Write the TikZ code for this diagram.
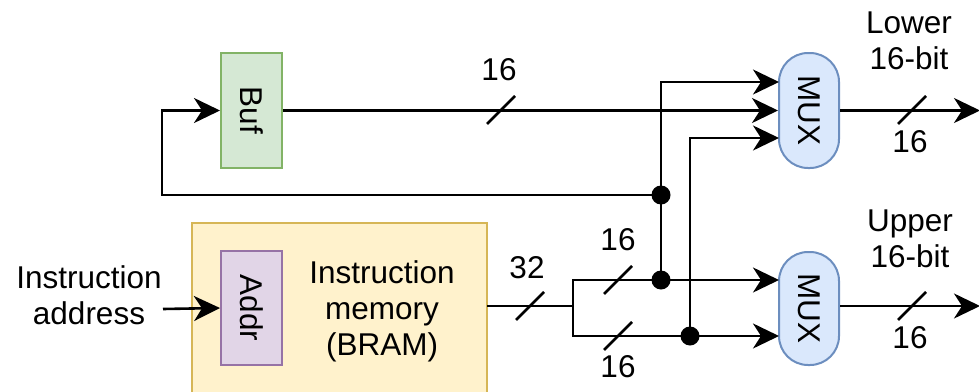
\documentclass[tikz,border=0pt]{standalone}
\usepackage{fontspec}
\setmainfont{Liberation Sans}
\usetikzlibrary{arrows.meta}
\definecolor{bufFill}{HTML}{D5E8D4}
\definecolor{bufLine}{HTML}{82B366}
\definecolor{memFill}{HTML}{FFF2CC}
\definecolor{memLine}{HTML}{D6B656}
\definecolor{addrFill}{HTML}{E1D5E7}
\definecolor{addrLine}{HTML}{9673A6}
\definecolor{muxFill}{HTML}{DAE8FC}
\definecolor{muxLine}{HTML}{6C8EBF}
\begin{document}
\begin{tikzpicture}[x=1pt, y=-1pt, line width=2.6pt,
    every node/.style={font=\fontsize{31.5}{36}\selectfont, align=center, inner sep=0pt},
    block/.style={draw, line width=2pt, minimum width=61pt, minimum height=115pt},
    mux/.style={draw=muxLine, fill=muxFill, line width=2pt, rounded corners=29pt, minimum width=60pt, minimum height=115pt},
    arr/.style={-{Stealth[length=26pt, width=25pt, inset=8pt]}},
    dot/.style={circle, fill=black, minimum size=19pt}]
    \useasboundingbox (0,0) rectangle (979,391);

    % blocks
    \node[block, draw=memLine, fill=memFill, minimum width=295pt, minimum height=172pt] (mem) at (339.5,309) {};
    \node (memtxt) at (382,311) {Instruction\\memory\\(BRAM)};
    \node[block, draw=addrLine, fill=addrFill, minimum height=114pt] (addr) at (251.5,308) {\rotatebox{-90}{Addr}};
    \node[block, draw=bufLine, fill=bufFill] (buf) at (251.5,110.5) {\rotatebox{-90}{Buf}};
    \node[mux] (muxL) at (809,110.5) {\rotatebox{-90}{MUX}};
    \node[mux, minimum height=113pt] (muxU) at (809,308.5) {\rotatebox{-90}{MUX}};

    % texts
    \node (inp) at (89,295) {Instruction\\address};
    \node (lowtxt) at (909,41) {Lower\\16-bit};
    \node (uptxt) at (910,239) {Upper\\16-bit};
    \node (w16a) at (499,70) {16};
    \node (w32) at (527,268) {32};
    \node (w16b) at (618,240) {16};
    \node (w16c) at (618,367) {16};
    \node (w16d) at (910,142) {16};
    \node (w16e) at (910,338) {16};

    % wire points
    \coordinate (loop) at (162,195);
    \coordinate (src) at (163,309);
    \coordinate (memout) at (487,306);
    \coordinate (split) at (573,306);
    \coordinate (l1) at (779,82);
    \coordinate (l3) at (779,138);
    \coordinate (u1) at (779,280);
    \coordinate (u2) at (779,336);
    \coordinate (outL) at (980,110.5);
    \coordinate (outU) at (980,306);
    \node[dot] (d1) at (661,195) {};
    \node[dot] (d2) at (661,280) {};
    \node[dot] (d3) at (690,336) {};

    % wires
    \draw[arr] (src) -- (addr.west);
    \draw[arr] (d1.center) -- (loop) |- (buf.west);
    \draw[arr] (buf.east) -- (muxL.west);
    \draw (memout) -- (split);
    \draw[arr] (split) |- (d2.center) -- (u1);
    \draw[arr] (split) |- (d3.center) -- (u2);
    \draw[arr] (d2.center) |- (l1);
    \draw[arr] (d3.center) |- (l3);
    \draw[arr] (muxL.east) -- (outL);
    \draw[arr] (muxU.east |- outU) -- (outU);

    % bus width marks
    \foreach \x/\y in {501/110, 530/306, 618/280, 618/336, 912/110, 912/306}
        \draw (\x,\y) ++(-14,14) -- ++(28,-28);
\end{tikzpicture}
\end{document}
